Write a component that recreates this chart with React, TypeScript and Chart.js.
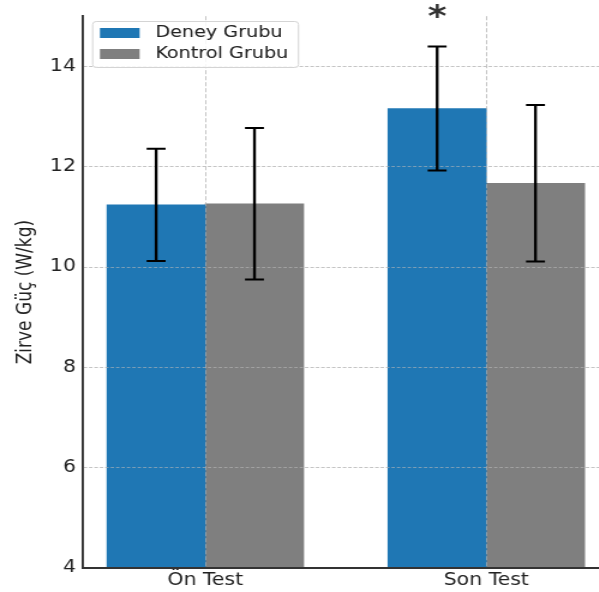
import React, { useEffect, useRef } from 'react';
import { Chart, registerables } from 'chart.js';

Chart.register(...registerables);

// ---- data ----
const categories = ['Ön Test', 'Son Test'];
const seriesNames = ['Deney Grubu', 'Kontrol Grubu'];
const deneyMeans = [11.24, 13.16];
const deneySD = [1.12, 1.235];
const kontrolMeans = [11.26, 11.67];
const kontrolSD = [1.51, 1.56];
const yTicks = [4, 6, 8, 10, 12, 14];
const annotations = [{ category: 1, series: 0, text: '*', y: 14.66 }];

// ---- layout / style ----
const STRETCH = 1.2;
const W = 517;
const H = 592;
const BAR_WIDTH = 0.35;
const FONT = 'DejaVu Sans';
const TEXT = '#222222';
const GRID = 'rgba(185,185,185,0.6)';
const COLORS = ['#1f77b4', '#7f7f7f'];
const LEG_PAD = 5;
const LEG_LEFT = 78.3;
const LEG_TOP = 20;

const xOf = (cat: number, s: number) => cat + (s - 0.5) * BAR_WIDTH;

const overlayPlugin = {
  id: 'overlay',
  beforeDraw(chart: any) {
    const lg = chart.legend;
    if (lg) {
      lg.left = LEG_LEFT;
      lg.top = LEG_TOP;
    }
  },
  afterDatasetDraw(chart: any, args: any) {
    if (args.index === 0) {
      chart.scales.x.drawGrid(chart.chartArea);
      chart.scales.y.drawGrid(chart.chartArea);
      chart.scales.x.drawBorder();
      chart.scales.y.drawBorder();
    }
  },
  afterDatasetsDraw(chart: any) {
    const ctx = chart.ctx;
    const lg = chart.legend;
    if (lg) {
      ctx.save();
      ctx.font = `16px "${FONT}"`;
      const widths = lg.legendItems.map((it: any) => ctx.measureText(it.text).width);
      const maxW = Math.max(...widths);
      const fx = lg.left + LEG_PAD - 6.6;
      const fy = lg.top + 1;
      const textX = lg.left + LEG_PAD + 33 + 8;
      const fw = textX + maxW + 8 - fx;
      const fh = 46;
      ctx.beginPath();
      ctx.roundRect(fx + 0.5, fy + 0.5, fw, fh, 3);
      ctx.fillStyle = 'rgba(255,255,255,0.85)';
      ctx.fill();
      ctx.strokeStyle = '#d4d4d4';
      ctx.lineWidth = 1;
      ctx.stroke();
      ctx.restore();
      lg.draw();
    }
    annotations.forEach((a) => {
      const x = chart.scales.x.getPixelForValue(xOf(a.category, a.series));
      const y = chart.scales.y.getPixelForValue(a.y);
      ctx.save();
      ctx.font = `bold 30px "${FONT}"`;
      ctx.fillStyle = '#333333';
      ctx.textAlign = 'center';
      ctx.textBaseline = 'bottom';
      ctx.fillText(a.text, x, y);
      ctx.restore();
    });
  },
};

export default function App() {
  const ref = useRef<HTMLCanvasElement>(null);

  useEffect(() => {
    if (!ref.current) return;
    const means = [deneyMeans, kontrolMeans];
    const sds = [deneySD, kontrolSD];

    const barSets: any[] = seriesNames.map((name, s) => ({
      type: 'bar',
      label: name,
      data: categories.map((_, i) => ({ x: xOf(i, s), y: means[s][i] })),
      backgroundColor: COLORS[s],
      borderWidth: 0,
      grouped: false,
      categoryPercentage: 1,
      barPercentage: 1,
      order: 2,
    }));

    const errData: any[] = [];
    const capData: any[] = [];
    seriesNames.forEach((_, s) =>
      categories.forEach((__, i) => {
        const x = xOf(i, s);
        const lo = means[s][i] - sds[s][i];
        const hi = means[s][i] + sds[s][i];
        errData.push({ x, y: [lo, hi] });
        capData.push({ x, y: lo }, { x, y: hi });
      })
    );

    const errSet: any = {
      type: 'bar',
      label: 'err',
      data: errData,
      backgroundColor: '#000000',
      borderWidth: 0,
      grouped: false,
      barThickness: 1.7,
      order: 1,
    };
    const capSet: any = {
      type: 'scatter',
      label: 'cap',
      data: capData,
      pointStyle: 'line',
      pointRadius: 7.9,
      pointHoverRadius: 7.9,
      borderColor: '#000000',
      backgroundColor: '#000000',
      borderWidth: 2,
      showLine: false,
      order: 0,
    };

    const defaultLabels = Chart.defaults.plugins.legend.labels.generateLabels;

    const chart = new Chart(ref.current, {
      type: 'bar',
      data: { datasets: [...barSets, errSet, capSet] },
      options: {
        animation: false,
        responsive: false,
        devicePixelRatio: 1,
        events: [],
        layout: { padding: { top: 14, left: 0, right: 0, bottom: 0 } },
        plugins: {
          tooltip: { enabled: false },
          legend: {
            display: true,
            position: 'chartArea',
            align: 'start',
            labels: {
              boxWidth: 33,
              boxHeight: 10,
              padding: LEG_PAD,
              color: TEXT,
              font: { family: FONT, size: 16 },
              generateLabels: (c: any) =>
                defaultLabels(c)
                  .filter((item: any) => item.datasetIndex < 2)
                  .map((item: any) => ({ ...item, text: ' ' + item.text })),
            },
          },
        },
        scales: {
          x: {
            type: 'linear',
            offset: false,
            min: -0.435,
            max: 1.435,
            afterBuildTicks: (sc: any) => {
              sc.ticks = categories.map((_, i) => ({ value: i }));
            },
            afterFit: (sc: any) => {
              sc.height = 24;
            },
            ticks: {
              callback: (v: any) => categories[v] ?? '',
              autoSkip: false,
              maxRotation: 0,
              padding: 2,
              color: TEXT,
              font: { family: FONT, size: 17 },
            },
            grid: { color: GRID, lineWidth: 1, drawTicks: false, offset: false },
            border: { display: true, color: '#333333', width: 2, dash: [4, 2] },
          },
          y: {
            type: 'linear',
            min: 4,
            max: 15,
            afterBuildTicks: (sc: any) => {
              sc.ticks = yTicks.map((v) => ({ value: v }));
            },
            afterFit: (sc: any) => {
              sc.width = 69.2;
            },
            ticks: {
              padding: 6,
              color: TEXT,
              font: { family: FONT, size: 17 },
            },
            grid: {
              color: (c: any) => (c.tick && c.tick.value === 4 ? 'rgba(0,0,0,0)' : GRID),
              lineWidth: 1,
              drawTicks: false,
            },
            border: { display: true, color: '#333333', width: 1.7, dash: [2.8, 1.7] },
            title: {
              display: true,
              text: 'Zirve Güç (W/kg)',
              color: TEXT,
              font: { family: FONT, size: 17 },
              padding: { top: 11, bottom: 0 },
            },
          },
        },
      } as any,
      plugins: [overlayPlugin],
    });

    return () => chart.destroy();
  }, []);

  return (
    <div
      style={{
        position: 'fixed',
        left: 0,
        top: 0,
        width: 599,
        height: 592,
        overflow: 'hidden',
        background: '#ffffff',
      }}
    >
      <div style={{ transform: `scaleX(${STRETCH})`, transformOrigin: '0 0', width: W, height: H }}>
        <canvas ref={ref} width={W} height={H} />
      </div>
    </div>
  );
}
